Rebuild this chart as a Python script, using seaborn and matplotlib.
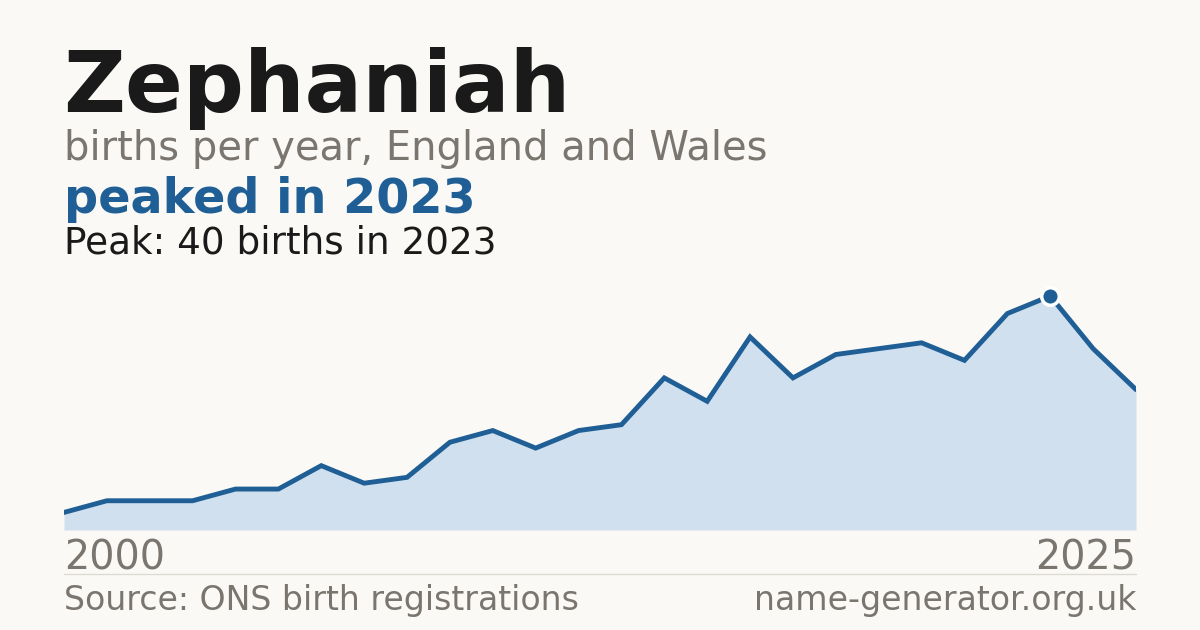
import matplotlib

matplotlib.use('Agg')
import matplotlib.pyplot as plt
import seaborn as sns
import pandas as pd

# Данные
years = list(range(2000, 2026))
births = [3, 5, 5, 5, 7, 7, 11, 8, 9, 15, 17, 14, 17, 18, 26, 22, 33, 26, 30, 31, 32, 29, 37, 40, 31, 24]
peak_year = 2023
peak_value = 40

BG = '#faf9f5'
BLUE = '#1f5f96'
FILL = '#d0e0ef'
GREY = '#7a756e'
DARK = '#1a1a1a'

sns.set_theme(style="white", rc={'figure.facecolor': BG, 'axes.facecolor': BG})
plt.rcParams['font.family'] = ['DejaVu Sans']

df = pd.DataFrame({'year': years, 'births': births})

fig = plt.figure(figsize=(12, 6.3), dpi=100)
W, H = 1200, 630


def fx(px):
    return px / W


def fy(py):
    return 1 - py / H


# Область графика
ax = fig.add_axes([fx(64), fy(530), fx(1136) - fx(64), fy(280) - fy(530)])
ax.fill_between(df['year'], df['births'], 0, color=FILL, linewidth=0)
sns.lineplot(data=df, x='year', y='births', ax=ax, color=BLUE, linewidth=3.5, solid_joinstyle='miter')
pk = df[df['year'] == peak_year]
ax.scatter(pk['year'], pk['births'], s=160, color=BLUE, edgecolor='white', linewidth=2.5, zorder=5, clip_on=False)

ax.set_xlim(2000, 2025)
ax.set_ylim(0, 40 * 250 / 234)
ax.set_xlabel('')
ax.set_ylabel('')
ax.set_xticks([])
ax.set_yticks([])
for s in ax.spines.values():
    s.set_visible(False)

# Тексты
fig.text(fx(63), fy(112), 'Zephaniah', fontsize=61.5, fontweight='bold', color=DARK, va='baseline')
fig.text(fx(64), fy(160), 'births per year, England and Wales', fontsize=28.8, color=GREY, va='baseline')
fig.text(fx(64), fy(213), f'peaked in {peak_year}', fontsize=34.4, fontweight='bold', color=BLUE, va='baseline')
fig.text(fx(64), fy(254), f'Peak: {peak_value} births in {peak_year}', fontsize=26.9, color=DARK, va='baseline')

fig.text(fx(64), fy(570), str(years[0]), fontsize=28.5, color=GREY, va='baseline', ha='left')
fig.text(fx(1136), fy(570), str(years[-1]), fontsize=28.5, color=GREY, va='baseline', ha='right')

fig.add_artist(plt.Line2D([fx(64), fx(1136)], [fy(574), fy(574)], color='#dedbd5', linewidth=1))

fig.text(fx(64), fy(610), 'Source: ONS birth registrations', fontsize=23.9, color=GREY, va='baseline')
fig.text(fx(1136), fy(610), 'name-generator.org.uk', fontsize=23.9, color=GREY, va='baseline', ha='right')

fig.savefig('out.png', dpi=100, facecolor=BG)
plt.close()
